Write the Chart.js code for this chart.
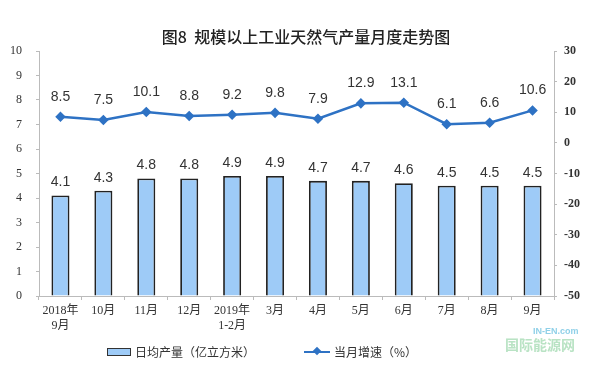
<!DOCTYPE html>
<html>
<head>
<meta charset="utf-8">
<script src="https://cdn.jsdelivr.net/npm/chart.js@4"></script>
<style>
  body { margin: 0; background: #fff; }
  #wrap { position: relative; width: 600px; height: 371px; }
  #title { position: absolute; top: 24px; left: 0; width: 612px; text-align: center;
           font: 500 16px "Noto Sans CJK SC", sans-serif; color: #222; }
  .legend { position: absolute; top: 343px; font: 12px "Noto Sans CJK SC", sans-serif; color: #333;
            display: flex; align-items: center; }
  .box { width: 22px; height: 6px; background: #9ecbf7; border: 1.5px solid #333; margin-right: 4px; }
  .ln { position: relative; width: 26px; height: 2px; background: #2e72c4; margin-right: 4px; }
  .ln::after { content: ''; position: absolute; left: 10px; top: -3px; width: 6px; height: 6px;
               background: #2e72c4; transform: rotate(45deg); }
  #mark { position: absolute; left: 505px; top: 326px; font: bold 14px "Noto Sans CJK SC", sans-serif;
          color: #b9e3c4; line-height: 16px; }
  #mark small { display: block; font: bold 9px "Liberation Sans", sans-serif; color: #8fd0e8; padding-left: 28px; }
</style>
</head>
<body>
<div id="wrap">
  <canvas id="chart" width="600" height="371"></canvas>
  <div id="title">图8&nbsp; 规模以上工业天然气产量月度走势图</div>
  <div class="legend" style="left:107px"><span class="box"></span>日均产量（亿立方米）</div>
  <div class="legend" style="left:304px"><span class="ln"></span>当月增速（%）</div>
  <div id="mark"><small>IN-EN.com</small>国际能源网</div>
</div>
<script>
// categories and series
const months = [['2018年', '9月'], '10月', '11月', '12月', ['2019年', '1-2月'], '3月', '4月', '5月', '6月', '7月', '8月', '9月'];
const dailyOutput = [4.1, 4.3, 4.8, 4.8, 4.9, 4.9, 4.7, 4.7, 4.6, 4.5, 4.5, 4.5];
const monthlyGrowth = [8.5, 7.5, 10.1, 8.8, 9.2, 9.8, 7.9, 12.9, 13.1, 6.1, 6.6, 10.6];

// simple value labels above bars and points
const valueLabels = {
    id: 'valueLabels',
    afterDatasetsDraw(chart) {
        const ctx = chart.ctx;
        ctx.save();
        ctx.font = '14px "Liberation Sans", Arial, sans-serif';
        ctx.fillStyle = '#333';
        ctx.textAlign = 'center';
        ctx.textBaseline = 'bottom';
        chart.data.datasets.forEach((ds, i) => {
            const meta = chart.getDatasetMeta(i);
            const off = ds.type === 'line' ? 13 : 6;
            meta.data.forEach((el, j) => {
                ctx.fillText(ds.data[j].toFixed(1), el.x, el.y - off);
            });
        });
        ctx.restore();
    }
};

const tickFont = { family: '"Liberation Serif", "Noto Sans CJK SC", serif', size: 12 };

new Chart(document.getElementById('chart'), {
    data: {
        labels: months,
        datasets: [
            {
                type: 'line',
                label: '当月增速（%）',
                data: monthlyGrowth,
                yAxisID: 'y2',
                borderColor: '#2e72c4',
                backgroundColor: '#2e72c4',
                borderWidth: 2.5,
                pointStyle: 'rectRot',
                pointRadius: 3.5,
                tension: 0
            },
            {
                type: 'bar',
                label: '日均产量（亿立方米）',
                data: dailyOutput,
                yAxisID: 'y',
                backgroundColor: '#9ecbf7',
                borderColor: '#222',
                borderWidth: 1.8,
                categoryPercentage: 1,
                barPercentage: 0.42
            }
        ]
    },
    options: {
        responsive: false,
        animation: false,
        layout: { padding: { top: 51, left: 0, right: 0, bottom: 0 } },
        plugins: { legend: { display: false }, tooltip: { enabled: false } },
        scales: {
            x: {
                grid: { display: true, drawOnChartArea: false, offset: true, tickLength: 4, color: '#bbb' },
                border: { color: '#bbb' },
                ticks: { font: tickFont, color: '#333', padding: 4, maxRotation: 0, autoSkip: false },
                afterFit: s => { s.height = 75; }
            },
            y: {
                position: 'left',
                min: 0, max: 10,
                ticks: { stepSize: 1, font: tickFont, color: '#333', padding: 14 },
                grid: { drawOnChartArea: false, tickLength: 3, color: '#bbb' },
                border: { color: '#bbb' },
                afterFit: s => { s.width = 39; }
            },
            y2: {
                position: 'right',
                min: -50, max: 30,
                ticks: { stepSize: 10, font: { ...tickFont, weight: 'bold' }, color: '#333', padding: 7 },
                grid: { drawOnChartArea: false, tickLength: 3, color: '#bbb' },
                border: { color: '#bbb' },
                afterFit: s => { s.width = 46; }
            }
        }
    },
    plugins: [valueLabels]
});
</script>
</body>
</html>
